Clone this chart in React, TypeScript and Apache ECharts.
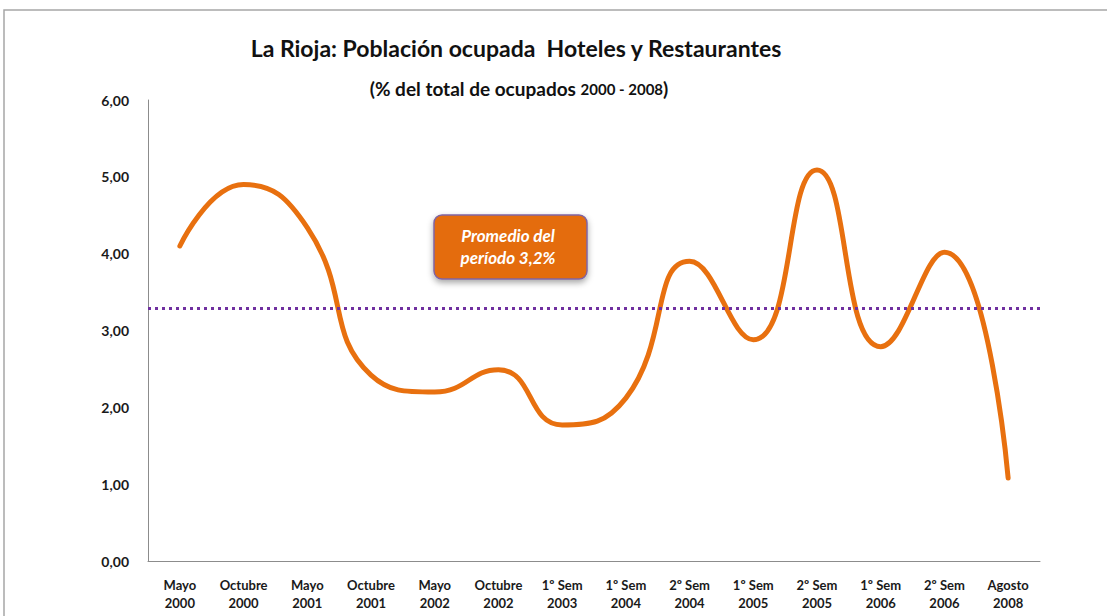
import React, { useEffect, useRef } from "react";
import * as echarts from "echarts";

const categories = [
  "Mayo\n2000", "Octubre\n2000", "Mayo\n2001", "Octubre\n2001", "Mayo\n2002", "Octubre\n2002",
  "1º Sem\n2003", "1º Sem\n2004", "2º Sem\n2004", "1º Sem\n2005", "2º Sem\n2005", "1º Sem\n2006",
  "2º Sem\n2006", "Agosto\n2008",
];
const values = [4.1, 4.9, 4.34, 2.42, 2.2, 2.49, 1.77, 2.12, 3.9, 2.88, 5.09, 2.79, 4.02, 1.08];
const average = 3.29;
const yTicks = { min: 0, max: 6, interval: 1 };

const FONT = "Lato, 'Open Sans', sans-serif";

export default function App() {
  const ref = useRef<HTMLDivElement>(null);
  useEffect(() => {
    const chart = echarts.init(ref.current!, null, { renderer: "svg" });
    chart.setOption({
      animation: false,
      backgroundColor: "#ffffff",
      textStyle: { fontFamily: FONT },
      title: [
        {
          text: "La Rioja: Población ocupada  Hoteles y Restaurantes",
          left: 511, top: 31, textAlign: "center",
          textStyle: { fontSize: 23, fontWeight: "bold", color: "#111", fontFamily: FONT },
        },
        {
          text: "{a|(% del total de ocupados }{b|2000 - 2008}{a|)}",
          left: 514, top: 74, textAlign: "center",
          textStyle: {
            rich: {
              a: { fontSize: 19, fontWeight: "bold", color: "#111", fontFamily: FONT },
              b: { fontSize: 15, fontWeight: "bold", color: "#111", fontFamily: FONT },
            },
          },
        },
      ],
      grid: { left: 148, right: 67, top: 100, bottom: 55 },
      xAxis: {
        type: "category",
        data: categories,
        boundaryGap: true,
        axisLine: { lineStyle: { color: "#8c8c8c", width: 1 } },
        axisTick: { show: false },
        axisLabel: {
          interval: 0, color: "#1a1a1a", fontWeight: "bold", fontSize: 13,
          fontFamily: FONT, margin: 15, lineHeight: 18,
        },
      },
      yAxis: {
        type: "value",
        min: yTicks.min, max: yTicks.max, interval: yTicks.interval,
        axisLine: { show: true, lineStyle: { color: "#8c8c8c", width: 1 } },
        axisTick: { show: false },
        splitLine: { show: false },
        axisLabel: {
          color: "#1a1a1a", fontWeight: "bold", fontSize: 14, fontFamily: FONT, margin: 19,
          formatter: (v: number) => v.toFixed(2).replace(".", ","),
        },
      },
      series: [
        {
          type: "line",
          data: values,
          smooth: 0.5,
          symbol: "none",
          lineStyle: { color: "#E8700F", width: 5, cap: "round" },
          markLine: {
            silent: true,
            symbol: "none",
            label: { show: false },
            lineStyle: { color: "#7030A0", type: [3, 4], width: 3 },
            data: [{ yAxis: average }],
          },
        },
      ],
      graphic: [
        {
          type: "rect",
          shape: { x: 4, y: 10, width: 1300, height: 800 },
          style: { fill: "none", stroke: "#a6a6a6", lineWidth: 1.5 },
          silent: true,
        },
        {
          type: "rect",
          shape: { x: 434, y: 215, width: 153, height: 64, r: 8 },
          style: {
            fill: "#E46C0A", stroke: "#8064A2", lineWidth: 1.5,
            shadowBlur: 6, shadowColor: "rgba(0,0,0,0.35)", shadowOffsetY: 3,
          },
        },
        {
          type: "text",
          x: 508, y: 246,
          style: {
            text: "Promedio del\nperíodo 3,2%",
            fill: "#ffffff", font: `italic bold 17px ${FONT}`,
            align: "center", verticalAlign: "middle", lineHeight: 22,
          },
        },
      ],
    });
    return () => chart.dispose();
  }, []);
  return <div ref={ref} style={{ position: "absolute", left: 0, top: 0, width: 1107, height: 616 }} />;
}
